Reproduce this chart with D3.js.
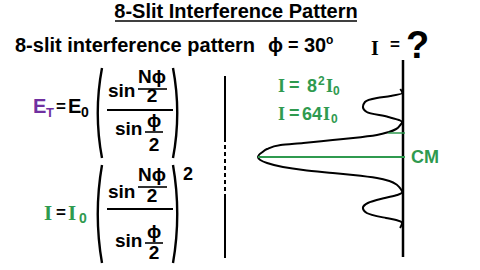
<!DOCTYPE html>
<html>
<head>
<meta charset="utf-8">
<script src="https://cdn.jsdelivr.net/npm/d3@7"></script>
<style>
  html, body { margin: 0; padding: 0; background: #fff; }
  svg { display: block; }
  text { font-family: "Liberation Sans", Arial, sans-serif; font-weight: bold; }
  .serif { font-family: "Liberation Serif", "Times New Roman", serif; }
</style>
</head>
<body>
<div id="chart"></div>
<script>
// intensity pattern: position relative to CM, intensity in units of I0
const curvePosition = [-68, -64, -61, -59, -55, -50, -45, -40, -37, -35,
  -32, -28, -25, -22, -19, -17, -14, -12, -8, -5, -2, 0,
  3, 6, 10, 13, 16, 18, 21, 24, 28, 32,
  35, 38, 41, 46, 51, 56, 61, 63, 66, 71];
const curveIntensity = [1.2, 0.3, 5.5, 11.5, 16.8, 17.7, 16, 6.5, 1.8, 0.3,
  1.2, 3, 6.2, 11.5, 22, 31, 44, 54, 60, 62, 63.6, 64,
  63, 60, 53, 44, 31, 22, 11.5, 6, 2.6, 1,
  0.3, 2.5, 8, 15.5, 17.7, 16, 7.5, 3, 0.4, 1.3];
const peakIntensity = 64;

const titleText = '8-Slit Interference Pattern';
const subtitleText = '8-slit interference pattern';
const phiText = 'ϕ';
const phiValue = '30';

const width = 480;
const height = 270;
const green = '#2f9a4f';
const purple = '#7030a0';

const svg = d3.select('#chart')
  .append('svg')
  .attr('width', width)
  .attr('height', height);

svg.append('rect').attr('width', width).attr('height', height).attr('fill', '#fff');

// helper for placing a bit of text
function label(x, y, str, size, opts = {}) {
  return svg.append('text')
    .attr('x', x)
    .attr('y', y)
    .attr('font-size', size + 'px')
    .attr('fill', opts.fill || '#000')
    .attr('text-anchor', opts.anchor || 'start')
    .attr('class', opts.cls || null)
    .text(str);
}

function bar(x1, x2, y, w = 1.6) {
  svg.append('line')
    .attr('x1', x1).attr('x2', x2)
    .attr('y1', y).attr('y2', y)
    .attr('stroke', '#000')
    .attr('stroke-width', w);
}

function parens(top, bottom) {
  const mid = (top + bottom) / 2;
  svg.append('path')
    .attr('d', `M102,${top} Q93.5,${mid} 102,${bottom}`)
    .attr('fill', 'none').attr('stroke', '#000').attr('stroke-width', 2.4);
  svg.append('path')
    .attr('d', `M173,${top} Q181.5,${mid} 173,${bottom}`)
    .attr('fill', 'none').attr('stroke', '#000').attr('stroke-width', 2.4);
}

// header
label(236, 18, titleText, 20, { anchor: 'middle' });
bar(115, 357, 21, 1.5);

label(15, 52, subtitleText, 20);
label(268, 52, phiText, 20);
label(288, 51, '=', 18);
label(304, 52, phiValue, 20);
label(326, 44, 'o', 12);

label(371, 55, 'I', 20, { cls: 'serif' });
label(390, 50, '=', 17);
label(406, 58, '?', 38);

// E_T formula
label(33, 113, 'E', 20, { fill: purple });
label(46, 117, 'T', 13, { fill: purple });
label(56, 112, '=', 17);
label(68, 113, 'E', 20);
label(81, 117, '0', 14);

parens(68, 158);
label(108, 97, 'sin', 19);
label(138, 83, 'N' + phiText, 19);
bar(138, 167, 89);
label(152, 102, '2', 19, { anchor: 'middle' });
bar(107, 173, 110, 2);
label(115, 135, 'sin', 19);
label(154, 127, phiText, 19, { anchor: 'middle' });
bar(145, 163, 132);
label(154, 151, '2', 19, { anchor: 'middle' });

// intensity formula
label(44, 220, 'I', 21, { fill: green, cls: 'serif' });
label(56, 218, '=', 17);
label(68, 220, 'I', 21, { fill: green, cls: 'serif' });
label(79, 223, '0', 14, { fill: green });

parens(165, 263);
label(108, 198, 'sin', 19);
label(138, 181, 'N' + phiText, 19);
bar(138, 167, 187);
label(152, 202, '2', 19, { anchor: 'middle' });
bar(107, 173, 209, 2);
label(115, 247, 'sin', 19);
label(154, 238, phiText, 19, { anchor: 'middle' });
bar(145, 163, 243);
label(154, 259, '2', 19, { anchor: 'middle' });
label(183, 180, '2', 18);

// slit divider
const divider = [[76, 138, null], [138, 197, '4,3'], [197, 258, null]];
divider.forEach(([y1, y2, dash]) => {
  svg.append('line')
    .attr('x1', 225).attr('x2', 225)
    .attr('y1', y1).attr('y2', y2)
    .attr('stroke', '#000')
    .attr('stroke-width', 2)
    .attr('stroke-dasharray', dash);
});

// intensity plot on the screen
const yScale = d3.scaleLinear().domain([-70, 70]).range([87, 227]);
const xScale = d3.scaleLinear().domain([0, peakIntensity]).range([403, 258]);

const points = curvePosition.map((p, i) => ({ pos: p, value: curveIntensity[i] }));

const line = d3.line()
  .x((d) => xScale(d.value))
  .y((d) => yScale(d.pos))
  .curve(d3.curveMonotoneY);

// screen
svg.append('line')
  .attr('x1', xScale(0)).attr('x2', xScale(0))
  .attr('y1', 60).attr('y2', 257)
  .attr('stroke', '#000')
  .attr('stroke-width', 2.5);

svg.append('path')
  .datum(points)
  .attr('d', line)
  .attr('fill', 'none')
  .attr('stroke', '#000')
  .attr('stroke-width', 2);

// central maximum marker
svg.append('line')
  .attr('x1', xScale(peakIntensity)).attr('x2', xScale(0) + 2)
  .attr('y1', yScale(0)).attr('y2', yScale(0))
  .attr('stroke', green)
  .attr('stroke-width', 1.8);

svg.append('line')
  .attr('x1', xScale(6.5)).attr('x2', xScale(0) + 2)
  .attr('y1', yScale(-24)).attr('y2', yScale(-24))
  .attr('stroke', green)
  .attr('stroke-width', 1.5);

label(411, 163, 'CM', 18, { fill: green });

// peak value labels
label(278, 92, 'I', 18, { fill: green, cls: 'serif' });
label(289, 91, '=', 18, { fill: green });
label(307, 92, '8', 18, { fill: green });
label(318, 85, '2', 12, { fill: green });
label(326, 92, 'I', 18, { fill: green, cls: 'serif' });
label(333, 95, '0', 12, { fill: green });

label(278, 120, 'I', 18, { fill: green, cls: 'serif' });
label(289, 119, '=', 18, { fill: green });
label(302, 120, String(peakIntensity), 18, { fill: green });
label(323, 120, 'I', 18, { fill: green, cls: 'serif' });
label(331, 123, '0', 12, { fill: green });
</script>
</body>
</html>
